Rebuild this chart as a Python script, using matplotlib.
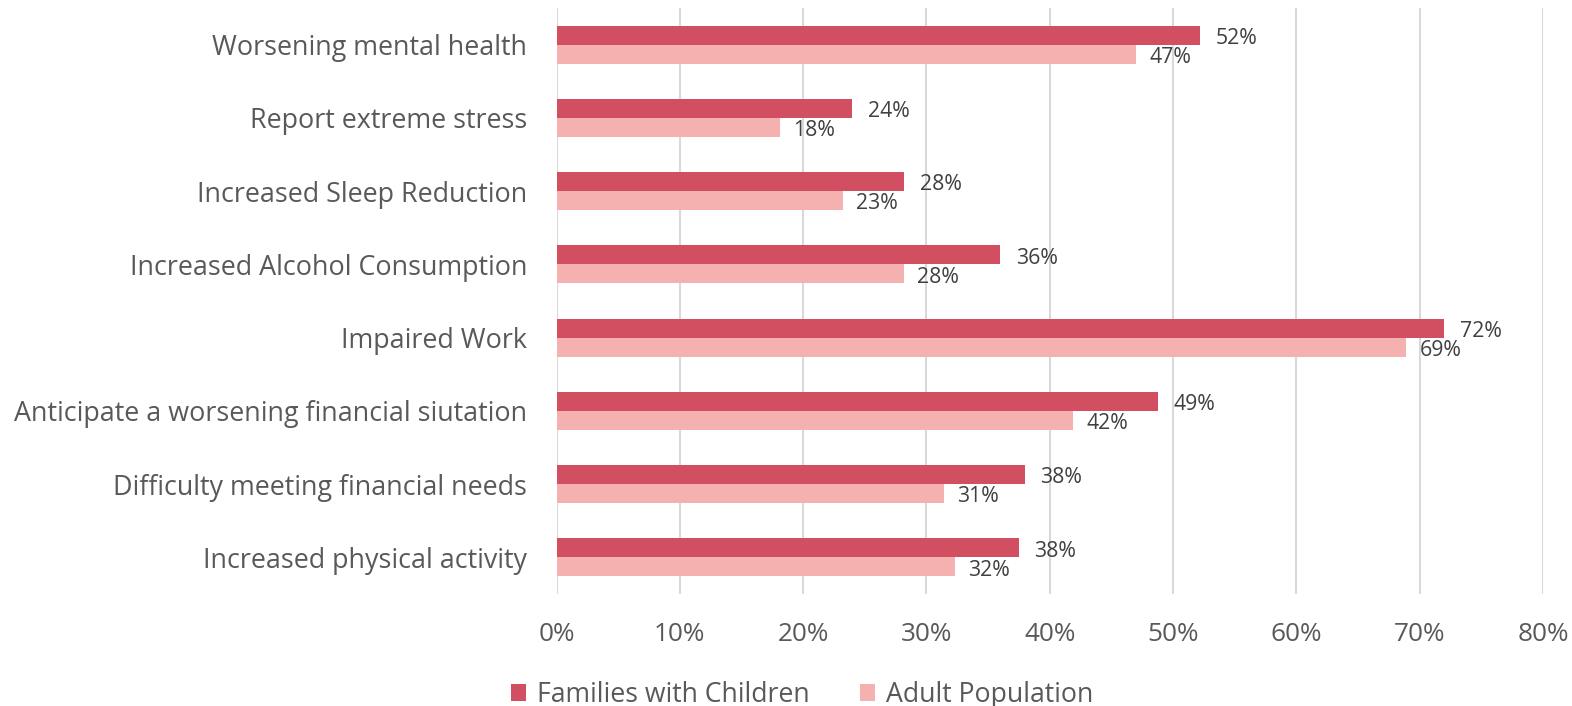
import matplotlib
matplotlib.use("Agg")
import matplotlib.pyplot as plt
import numpy as np

categories = [
    "Worsening mental health",
    "Report extreme stress",
    "Increased Sleep Reduction",
    "Increased Alcohol Consumption",
    "Impaired Work",
    "Anticipate a worsening financial siutation",
    "Difficulty meeting financial needs",
    "Increased physical activity",
]
families = [52.2, 24.0, 28.2, 36.0, 72.0, 48.8, 38.0, 37.5]
adults = [47.0, 18.1, 23.2, 28.2, 68.9, 41.9, 31.4, 32.3]
families_labels = ["52%", "24%", "28%", "36%", "72%", "49%", "38%", "38%"]
adults_labels = ["47%", "18%", "23%", "28%", "69%", "42%", "31%", "32%"]
xticks = [0, 10, 20, 30, 40, 50, 60, 70, 80]
series_names = ["Families with Children", "Adult Population"]

plt.rcParams['font.family'] = ['Open Sans', 'DejaVu Sans']

c_fam = "#D14F61"
c_adult = "#F5B1B0"
grey = "#595959"

fig = plt.figure(figsize=(15.72, 7.06), dpi=100)
ax = fig.add_axes([556.5/1572, 1-594/706, (1543-556.5)/1572, (594-8)/706])

y = np.arange(len(categories))
h = 0.26
b1 = ax.barh(y - h/2, families, height=h, color=c_fam, label=series_names[0], zorder=3)
b2 = ax.barh(y + h/2, adults, height=h, color=c_adult, label=series_names[1], zorder=3)

for yi, v, t in zip(y, families, families_labels):
    ax.annotate(t, (v, yi - h/2), xytext=(11, -2.3), textcoords="offset points",
                va="center", ha="left", fontsize=15.3, color="#404040")
for yi, v, t in zip(y, adults, adults_labels):
    ax.annotate(t, (v, yi + h/2), xytext=(9.5, -2.3), textcoords="offset points",
                va="center", ha="left", fontsize=15.3, color="#404040")

ax.set_ylim(len(categories) - 0.5, -0.5)
ax.set_xlim(0, 80)
ax.set_yticks(y)
ax.set_yticklabels(categories, fontsize=19.4, color=grey)
ax.set_xticks(xticks)
ax.set_xticklabels([f"{t}%" for t in xticks], fontsize=18.8, color=grey)
ax.tick_params(axis="y", length=0, pad=21)
ax.tick_params(axis="x", length=0, pad=20.5)
ax.grid(axis="x", color="#D9D9D9", linewidth=1.5, zorder=0)
for s in ax.spines.values():
    s.set_visible(False)

fig.legend(handles=[b1, b2], labels=series_names, loc="center",
           bbox_to_anchor=(802/1572, 1-695/706), ncol=2, frameon=False,
           fontsize=19.2, handlelength=0.58, handleheight=0.58, handletextpad=0.4,
           columnspacing=1.9, labelcolor=grey)

fig.savefig("out.png", dpi=100)
